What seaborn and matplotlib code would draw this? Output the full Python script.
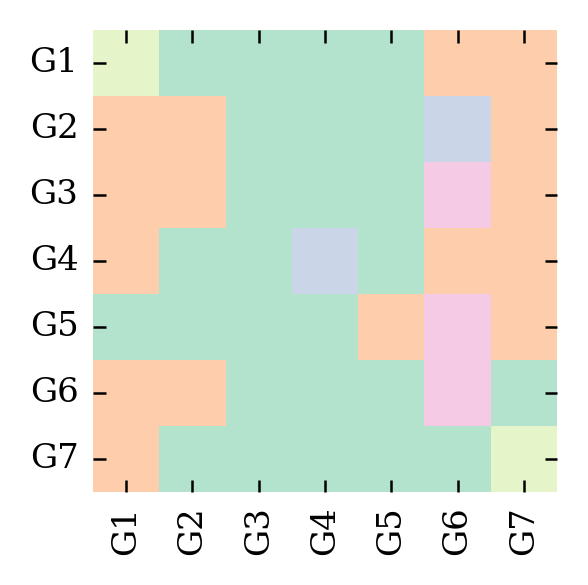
import numpy as np
import pandas as pd
import seaborn as sns
import matplotlib.pyplot as plt
from matplotlib.colors import ListedColormap

labels = ['G1', 'G2', 'G3', 'G4', 'G5', 'G6', 'G7']
# 0 green, 1 orange, 2 blue, 3 pink, 4 light green
grid = [
    [4, 0, 0, 0, 0, 1, 1],
    [1, 1, 0, 0, 0, 2, 1],
    [1, 1, 0, 0, 0, 3, 1],
    [1, 0, 0, 2, 0, 1, 1],
    [0, 0, 0, 0, 1, 3, 1],
    [1, 1, 0, 0, 0, 3, 0],
    [1, 0, 0, 0, 0, 0, 4],
]

df = pd.DataFrame(grid, index=labels, columns=labels)
cmap = ListedColormap(sns.color_palette('Pastel2', 5))

plt.rcParams['font.family'] = 'DejaVu Serif'
fig = plt.figure(figsize=(5.88, 5.85), dpi=100)
ax = fig.add_axes([93 / 588, 1 - 492 / 585, 464 / 588, 462 / 585])
sns.heatmap(df, cmap=cmap, vmin=-0.5, vmax=4.5, cbar=False, ax=ax)
ax.tick_params(direction='in', length=9, width=1.8, labelsize=24.5,
               top=True, right=True, bottom=True, left=True, pad=10.5)
plt.setp(ax.get_xticklabels(), rotation=90)
plt.setp(ax.get_yticklabels(), rotation=0)
fig.savefig('out.png', dpi=100)
